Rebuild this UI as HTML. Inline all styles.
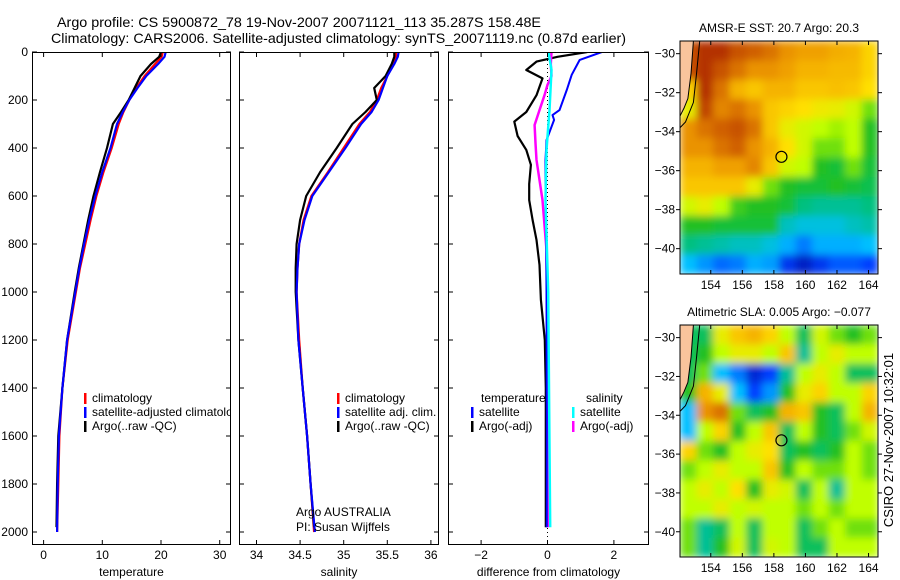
<!DOCTYPE html>
<html><head><meta charset="utf-8"><style>
body{margin:0;background:#fff;}
svg{display:block;font-family:"Liberation Sans",sans-serif;}
</style></head><body>
<svg id="fig" width="900" height="580" viewBox="0 0 900 580" xmlns="http://www.w3.org/2000/svg">
<defs>
<filter id="blur" x="0" y="0" width="1" height="1"><feGaussianBlur stdDeviation="4" edgeMode="duplicate"/></filter>
<clipPath id="legclip"><rect x="0" y="380" width="231" height="60"/></clipPath>
</defs>
<rect width="900" height="580" fill="#fff"/>
<text x="57" y="27" font-size="14" textLength="484" lengthAdjust="spacingAndGlyphs">Argo profile: CS 5900872_78 19-Nov-2007 20071121_113 35.287S 158.48E</text>
<text x="51" y="43" font-size="14" textLength="575" lengthAdjust="spacingAndGlyphs">Climatology: CARS2006. Satellite-adjusted climatology: synTS_20071119.nc (0.87d earlier)</text>
<text transform="translate(893,440) rotate(-90)" text-anchor="middle" font-size="13">CSIRO 27-Nov-2007 10:32:01</text>
<g id="g"></g>
</svg>
<script>
// ---------- data ----------
const depthT = [0,20,50,100,150,200,250,300,400,500,600,700,800,900,1000,1200,1400,1600,1800,2000];
const tempClim = [20.3,20.1,19,17.2,15.8,14.6,13.6,12.8,11.6,10.2,9,8,7.1,6.2,5.5,4.1,3.2,2.7,2.5,2.3];
const tempSat = [20.8,20.6,19.5,17.5,16,14.6,13.5,12.5,11.4,10,8.8,7.8,6.9,6.1,5.4,4,3.2,2.6,2.4,2.3];
const tempArgo = [20,19.7,18.3,16.5,15.5,14.5,13.2,11.8,10.8,9.6,8.5,7.6,6.8,6,5.3,4,3.2,2.5,2.3,2.2];
const salClim = [35.6,35.6,35.57,35.5,35.43,35.38,35.3,35.18,35.0,34.82,34.63,34.54,34.49,34.47,34.46,34.49,34.53,34.58,34.62,34.66];
const salSat = [35.63,35.62,35.58,35.5,35.45,35.4,35.32,35.2,35.02,34.83,34.64,34.55,34.49,34.47,34.46,34.48,34.53,34.58,34.62,34.67];
const salArgo = [35.58,35.58,35.55,35.48,35.35,35.38,35.25,35.1,34.92,34.73,34.57,34.5,34.46,34.45,34.45,34.48,34.53,34.58,34.62,34.66];
const depthDT = [0,20,40,75,110,180,250,290,350,408,470,550,617,700,783,887,1033,1200,1400,1600,1800,1980];
const diffTempArgo = [1.2,0.3,-0.33,-0.64,-0.15,-0.33,-0.64,-1.0,-0.9,-0.64,-0.5,-0.55,-0.55,-0.45,-0.33,-0.24,-0.2,-0.08,-0.05,-0.05,-0.05,-0.05];
const depthDTS = [0,33,95,158,242,263,283,367,450,617,800,1000,1500,1980];
const diffTempSat = [1.64,0.97,0.73,0.58,0.36,0.15,0.2,-0.03,-0.06,-0.06,-0.04,-0.03,-0.02,-0.02];
const depthDS = [0,50,100,137,180,242,304,380,450,617,825,1200,1980];
const diffSalArgo = [0.12,0.1,0.12,0,-0.09,-0.24,-0.39,-0.36,-0.33,-0.15,-0.03,0,0.02];
const depthDSS = [0,75,242,408,617,1000,1500,1980];
const diffSalSat = [0.03,0.12,0.06,-0.03,-0.06,0.02,0.05,0.08];
const depthTicks = [0,200,400,600,800,1000,1200,1400,1600,1800,2000];
const tempTicks = [0,10,20,30];
const salTicks = [34,34.5,35,35.5,36];
const diffTicks = [-2,0,2];
const lonTicks = [154,156,158,160,162,164];
const latTicks = [-30,-32,-34,-36,-38,-40];
const sstGrid = [
[null,0.95,0.95,0.9,0.88,0.85,0.8,0.78,0.78,0.76,0.75,0.7],
[null,0.95,0.9,0.85,0.8,0.8,0.78,0.75,0.75,0.74,0.74,0.7],
[0.7,0.95,0.85,0.75,0.72,0.75,0.75,0.72,0.72,0.73,0.72,0.68],
[0.65,0.92,0.82,0.85,0.8,0.72,0.7,0.68,0.66,0.65,0.62,0.55],
[0.8,0.85,0.88,0.9,0.85,0.72,0.65,0.62,0.6,0.58,0.6,0.5],
[0.8,0.8,0.85,0.88,0.8,0.75,0.68,0.62,0.55,0.55,0.6,0.5],
[0.75,0.75,0.78,0.78,0.82,0.72,0.62,0.6,0.5,0.48,0.55,0.48],
[0.72,0.72,0.72,0.72,0.65,0.55,0.5,0.48,0.48,0.5,0.48,0.46],
[0.62,0.65,0.6,0.52,0.5,0.5,0.48,0.42,0.4,0.4,0.4,0.42],
[0.5,0.5,0.48,0.48,0.48,0.48,0.36,0.33,0.33,0.33,0.36,0.38],
[0.42,0.4,0.38,0.36,0.36,0.33,0.28,0.22,0.28,0.28,0.28,0.3],
[0.3,0.25,0.2,0.22,0.28,0.26,0.13,0.08,0.13,0.18,0.18,0.15]];
const slaGrid = [
[null,0.45,0.65,0.72,0.75,0.7,0.6,0.45,0.62,0.55,0.5,0.55],
[null,0.5,0.6,0.65,0.65,0.6,0.72,0.4,0.6,0.65,0.6,0.6],
[0.45,0.55,0.3,0.22,0.1,0.15,0.4,0.6,0.65,0.6,0.45,0.45],
[0.5,0.75,0.65,0.3,0.15,0.25,0.5,0.65,0.7,0.6,0.6,0.7],
[0.3,0.8,0.85,0.55,0.45,0.5,0.75,0.72,0.5,0.45,0.6,0.75],
[0.3,0.6,0.7,0.5,0.6,0.72,0.45,0.6,0.5,0.45,0.55,0.62],
[0.7,0.55,0.5,0.6,0.65,0.68,0.45,0.5,0.45,0.5,0.6,0.55],
[0.55,0.6,0.65,0.6,0.6,0.72,0.5,0.6,0.55,0.55,0.6,0.55],
[0.6,0.65,0.6,0.68,0.5,0.65,0.62,0.45,0.6,0.4,0.6,0.6],
[0.6,0.6,0.65,0.6,0.62,0.6,0.6,0.55,0.6,0.55,0.6,0.6],
[0.55,0.4,0.45,0.6,0.45,0.6,0.6,0.45,0.55,0.6,0.55,0.55],
[0.55,0.4,0.5,0.62,0.45,0.62,0.6,0.45,0.45,0.6,0.6,0.6]];
const argoLon = 158.48, argoLat = -35.29;

// ---------- helpers ----------
const NS="http://www.w3.org/2000/svg";
const G=document.getElementById('g');
function mk(tag,attrs,parent){const e=document.createElementNS(NS,tag);for(const k in attrs)e.setAttribute(k,attrs[k]);(parent||G).appendChild(e);return e;}
function txt(x,y,s,size,anchor,parent,fill){const t=mk('text',{x:x,y:y,'font-size':size||12,'text-anchor':anchor||'start',fill:fill||'#000'},parent);t.textContent=s;return t;}
const yD=d=>52+d*0.24;
const panels=[
 {x0:32,x1:231,sx:v=>43.6+5.87*v,ticks:tempTicks,label:'temperature',name:'temperature-panel'},
 {x0:239,x1:439,sx:v=>256.5+87.2*(v-34),ticks:salTicks,label:'salinity',name:'salinity-panel'},
 {x0:448,x1:649,sx:v=>547.5+33.2*v,ticks:diffTicks,label:'difference from climatology',name:'difference-panel'}];
function line(parent,xs,ds,sx,color,w,name){
 let d='';xs.forEach((v,i)=>{d+=(i?'L':'M')+sx(v).toFixed(1)+','+yD(ds[i]).toFixed(1);});
 const p=mk('path',{d:d,fill:'none',stroke:color,'stroke-width':w,'stroke-linejoin':'round'},parent);
 
 
}
panels.forEach((P,pi)=>{
 const g=mk('g',{});
 
 
 const cp=mk('clipPath',{id:'cp'+pi},g);mk('rect',{x:P.x0,y:52,width:P.x1-P.x0,height:493},cp);
 const inner=mk('g',{'clip-path':'url(#cp'+pi+')'},g);
 P.ticks.forEach(t=>{const x=P.sx(t);
  mk('line',{x1:x,y1:545,x2:x,y2:540,stroke:'#000'},g);mk('line',{x1:x,y1:52,x2:x,y2:57,stroke:'#000'},g);
  const tl=txt(x,559,String(t).replace('-','\u2212'),12,'middle',g);
  
  
 });
 depthTicks.forEach(d=>{const y=yD(d);
  mk('line',{x1:P.x0,y1:y,x2:P.x0+5,y2:y,stroke:'#000'},g);mk('line',{x1:P.x1,y1:y,x2:P.x1-5,y2:y,stroke:'#000'},g);
  if(pi===0){const tl=txt(28,y+4,String(d),12,'end',g);
   
   }
 });
 const xl=txt((P.x0+P.x1)/2,576,P.label,12,'middle',g);
 
 
 if(pi===0){line(inner,tempClim,depthT,P.sx,'#f00',2.2,'temp-climatology-line');line(inner,tempArgo,depthT.map(d=>Math.min(d,1980)),P.sx,'#000',2.2,'temp-argo-line');line(inner,tempSat,depthT,P.sx,'#00f',2.2,'temp-satellite-line');}
 if(pi===1){line(inner,salClim,depthT,P.sx,'#f00',2.2,'sal-climatology-line');line(inner,salArgo,depthT.map(d=>Math.min(d,1980)),P.sx,'#000',2.2,'sal-argo-line');line(inner,salSat,depthT,P.sx,'#00f',2.2,'sal-satellite-line');}
 if(pi===2){
  const z=P.sx(0);mk('line',{x1:z,y1:52,x2:z,y2:545,stroke:'#000','stroke-dasharray':'1,3'},inner);
  line(inner,diffTempArgo,depthDT,P.sx,'#000',2.2,'diff-temp-argo-line');
  line(inner,diffSalArgo,depthDS,P.sx,'#f0f',2.5,'diff-sal-argo-line');
  line(inner,diffTempSat,depthDTS,P.sx,'#00f',2,'diff-temp-satellite-line');
  line(inner,diffSalSat,depthDSS,P.sx,'#0ff',2.5,'diff-sal-satellite-line');
 }
 mk('rect',{x:P.x0+0.5,y:52.5,width:P.x1-P.x0-1,height:492,fill:'none',stroke:'#000'},g);
});
// legends
function leg(x,y,color,label,name,parent){
 const g=mk('g',{},parent);
 
 
 mk('rect',{x:x,y:y-9,width:2.5,height:11,fill:color},g);
 txt(x+8,y,label,12,'start',g);
}
const leg1=mk('g',{'clip-path':'url(#legclip)'});
leg(84,402,'#f00','climatology','legend-climatology',leg1);
leg(84,416,'#00f','satellite-adjusted climatology','legend-satellite-adjusted',leg1);
leg(84,430,'#000','Argo(..raw -QC)','legend-argo-raw',leg1);
leg(337,402,'#f00','climatology','legend-sal-climatology');
leg(337,416,'#00f','satellite adj. clim.','legend-sal-satellite');
leg(337,430,'#000','Argo(..raw -QC)','legend-sal-argo');
txt(481,402,'temperature',12);
txt(586,402,'salinity',12);
leg(471,416,'#00f','satellite','legend-diff-temp-satellite');
leg(471,430,'#000','Argo(-adj)','legend-diff-temp-argo');
leg(572,416,'#0ff','satellite','legend-diff-sal-satellite');
leg(572,430,'#f0f','Argo(-adj)','legend-diff-sal-argo');
txt(296,516,'Argo AUSTRALIA',12);
txt(296,531,'PI: Susan Wijffels',12);

// ---------- maps ----------
const cmapStops=[[0,0,0,128],[0.15,0,64,255],[0.3,0,192,255],[0.42,0,192,128],[0.5,32,192,32],[0.6,192,255,0],[0.68,255,224,0],[0.78,240,160,0],[0.88,208,96,0],[1,160,16,0]];
function cmap(v){
 v=Math.max(0,Math.min(1,v));
 for(let i=1;i<cmapStops.length;i++){const a=cmapStops[i-1],b=cmapStops[i];
  if(v<=b[0]){const f=(v-a[0])/(b[0]-a[0]);
   return 'rgb('+[1,2,3].map(k=>Math.round(a[k]+(b[k]-a[k])*f)).join(',')+')';}}
 return 'rgb(160,16,0)';
}
function drawMap(top,bot,grid,title,name,idx){
 const L=680,R=878,lon0=152.05,lon1=164.6;
 const lat0=-29.35,lat1=-41.3;
 const sx=lon=>L+(lon-lon0)/(lon1-lon0)*(R-L);
 const sy=lat=>top+(lat-lat0)/(lat1-lat0)*(bot-top);
 const g=mk('g',{});
 
 
 const tt=txt((L+R)/2,top-9,title,12,'middle',g);
 
 
 const cp=mk('clipPath',{id:'mc'+idx},g);mk('rect',{x:L,y:top,width:R-L,height:bot-top},cp);
 const outer=mk('g',{'clip-path':'url(#mc'+idx+')'},g);
 const cells=mk('g',{filter:'url(#blur)'},outer);
 const rows=grid.length,cols=grid[0].length;
 const cw=(R-L)/cols,ch=(bot-top)/rows;
 grid.forEach((row,ri)=>row.forEach((v,ci)=>{
  const c=mk('rect',{x:(L+ci*cw).toFixed(2),y:(top+ri*ch).toFixed(2),width:(cw+0.6).toFixed(2),height:(ch+0.6).toFixed(2),fill:v===null?(idx?cmap(0.45):cmap(0.9)):cmap(v)},cells);
  
  
 }));
 const land=mk('path',{d:`M${L},${top} L${sx(152.9)},${top} L${sx(152.75)},${sy(-31)} L${sx(152.55)},${sy(-32.3)} L${sx(152.3)},${sy(-32.8)} L${L},${sy(-33.2)} Z`,fill:'#f9c49c',stroke:'#000','stroke-width':1},outer);
 
 
 mk('path',{d:`M${sx(153.3)},${top} L${sx(153.1)},${sy(-31)} L${sx(152.9)},${sy(-32.5)} L${sx(152.4)},${sy(-33.5)} L${L},${sy(-33.8)}`,fill:'none',stroke:'#000','stroke-width':1},outer);
 const mark=mk('circle',{cx:sx(argoLon),cy:sy(argoLat),r:5.5,fill:'none',stroke:'#000','stroke-width':1.2},g);
 
 
 mk('rect',{x:L,y:top,width:R-L,height:bot-top,fill:'none',stroke:'#000'},g);
 lonTicks.forEach(t=>{const x=sx(t);mk('line',{x1:x,y1:top,x2:x,y2:top+4,stroke:'#000'},g);mk('line',{x1:x,y1:bot,x2:x,y2:bot-4,stroke:'#000'},g);
  const l=txt(x,bot+15,String(t),12,'middle',g);
  
  });
 latTicks.forEach(t=>{const y=sy(t);mk('line',{x1:L-4,y1:y,x2:L,y2:y,stroke:'#000'},g);mk('line',{x1:R,y1:y,x2:R+4,y2:y,stroke:'#000'},g);
  const l=txt(L-5,y+4,'\u2212'+String(-t),12,'end',g);
  
  });
}
drawMap(41,274,sstGrid,'AMSR-E SST: 20.7 Argo: 20.3','sst-map',0);
drawMap(325,557,slaGrid,'Altimetric SLA: 0.005 Argo: \u22120.077','sla-map',1);
</script>
</body></html>
